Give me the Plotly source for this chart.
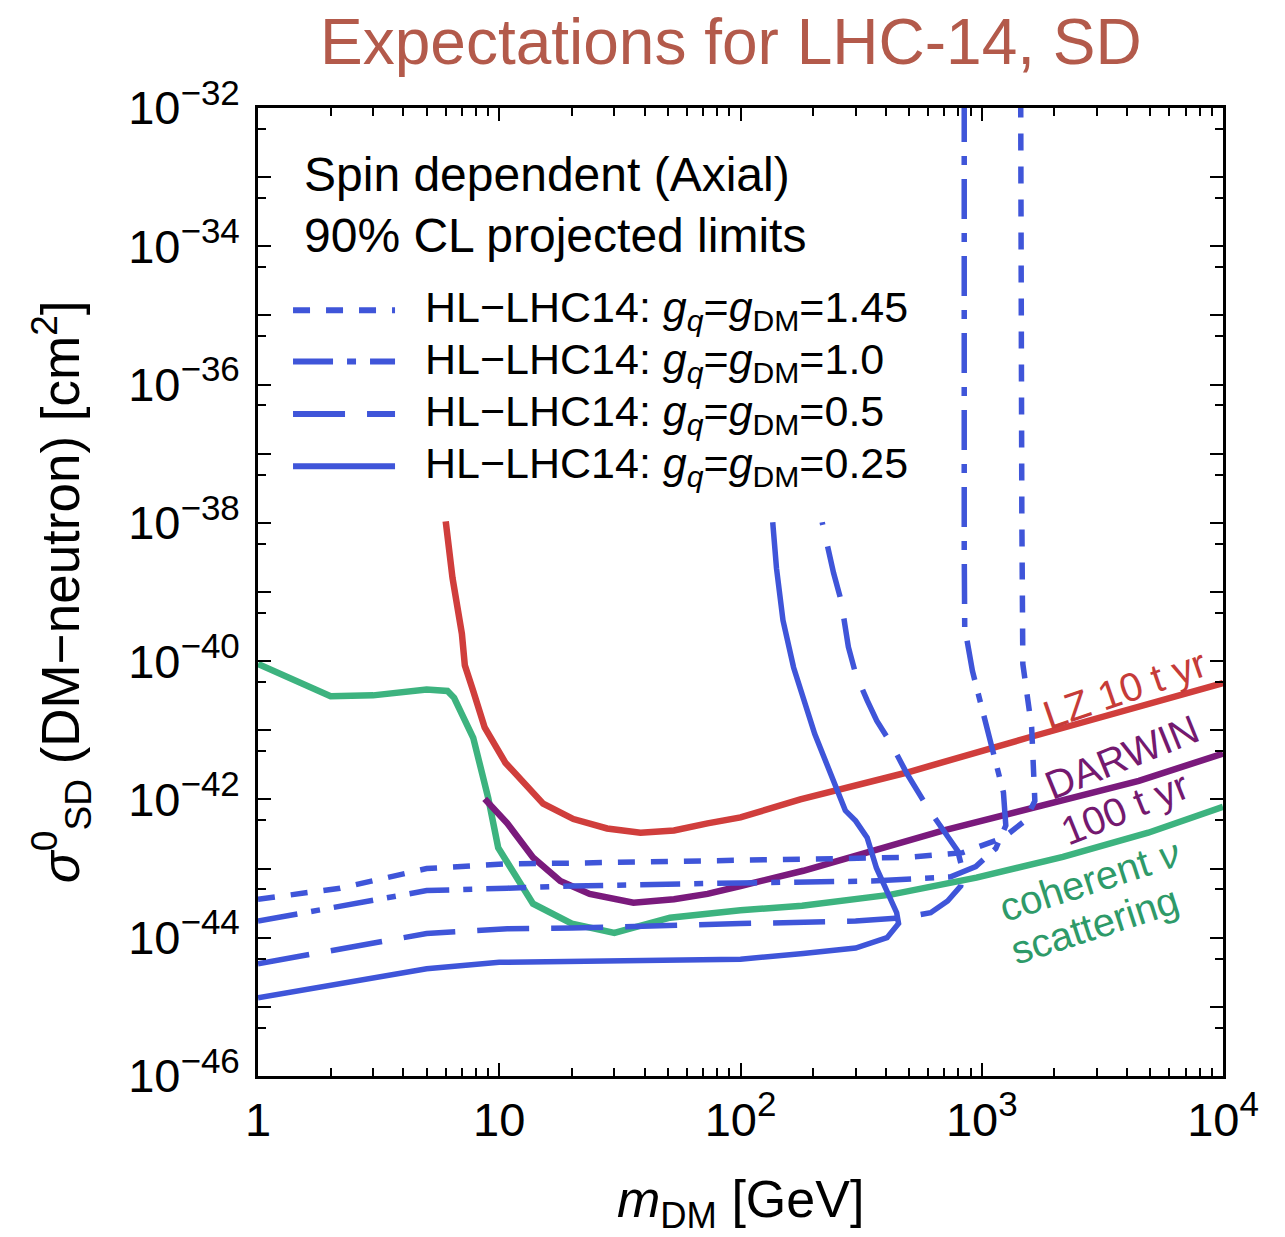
import plotly.graph_objects as go

# ---- data: DM mass [GeV] and SD DM-neutron cross sections [cm^2] ----
# coherent neutrino scattering floor
nu_m = [1, 2, 3, 5, 6.1, 6.5, 7.8, 9.0, 9.9, 13.8, 20, 30, 51, 100, 180, 420, 950, 2170, 4900, 10000]
nu_s = [9.1e-41, 3.1e-41, 3.2e-41, 3.9e-41, 3.7e-41, 2.95e-41, 7.8e-42, 1.05e-42, 2.0e-43, 3.1e-44,
        1.6e-44, 1.17e-44, 1.95e-44, 2.5e-44, 2.9e-44, 4.2e-44, 7.4e-44, 1.48e-43, 3.3e-43, 7.8e-43]

# LZ 10 t yr
lz_m = [6.0, 6.4, 7.0, 7.2, 7.8, 8.7, 10.6, 13.1, 15.2, 20.3, 28, 38.5, 53, 73, 100, 177, 490, 1550, 10000]
lz_s = [1.05e-38, 1.6e-39, 2.5e-40, 8.7e-41, 3.7e-41, 1.1e-41, 3.4e-42, 1.48e-42, 8.7e-43, 5.2e-43,
        3.8e-43, 3.3e-43, 3.55e-43, 4.5e-43, 5.5e-43, 1.0e-42, 2.45e-42, 7.8e-42, 4.8e-41]

# DARWIN 100 t yr
dw_m = [8.7, 10.8, 13.8, 17.9, 23.7, 36, 53, 73, 100, 182, 684, 1850, 4480, 10000]
dw_s = [1.02e-42, 4.5e-43, 1.45e-43, 6.6e-44, 4.3e-44, 3.2e-44, 3.6e-44, 4.3e-44, 5.6e-44, 9.3e-44,
        3.5e-43, 8.7e-43, 1.86e-42, 4.6e-42]

# HL-LHC14, g_q = g_DM = 1.45
l145_m = [1, 2.19, 5, 10.8, 20, 100, 490, 834, 1230, 1510, 1660, 1610, 1480, 1466, 1450]
l145_s = [3.6e-44, 5.2e-44, 1.0e-43, 1.17e-43, 1.2e-43, 1.29e-43, 1.45e-43, 1.7e-43, 2.8e-43, 4.9e-43,
          9.5e-43, 1.1e-41, 9.1e-41, 1.4e-38, 2.0e-32]

# HL-LHC14, g_q = g_DM = 1.0
l100_m = [1, 2.19, 5, 10.8, 20, 100, 350, 743, 944, 1143, 1258, 1230, 1050, 915, 850, 846, 846]
l100_s = [1.74e-44, 2.9e-44, 4.8e-44, 5.2e-44, 5.6e-44, 6.2e-44, 6.6e-44, 7.6e-44, 1.07e-43, 1.95e-43,
          4.2e-43, 1.26e-42, 1.0e-41, 7.2e-41, 3.1e-40, 4.0e-39, 2.0e-32]

# HL-LHC14, g_q = g_DM = 0.5
l050_m = [1, 5, 10.8, 20, 100, 300, 475, 614, 722, 818, 834, 795, 597, 532, 490, 420, 367, 335, 300,
          280, 261, 243, 218]
l050_s = [4.2e-45, 1.15e-44, 1.35e-44, 1.38e-44, 1.6e-44, 1.74e-44, 1.95e-44, 2.3e-44, 3.4e-44, 5.6e-44,
          9.3e-44, 1.8e-43, 7.6e-43, 1.48e-42, 2.35e-42, 6.5e-42, 1.38e-41, 2.7e-41, 6.6e-41,
          1.6e-40, 7.6e-40, 1.9e-39, 1.02e-38]

# HL-LHC14, g_q = g_DM = 0.25
l025_m = [1, 5, 10, 20, 100, 182, 300, 405, 452, 444, 405, 366, 335, 300, 272, 255, 203, 166, 150, 141, 136]
l025_s = [1.35e-45, 3.55e-45, 4.4e-45, 4.6e-45, 4.9e-45, 5.9e-45, 7.1e-45, 1.0e-44, 1.6e-44, 2.3e-44,
          4.8e-44, 1.02e-43, 2.8e-43, 4.9e-43, 6.9e-43, 1.2e-42, 8.9e-42, 8.1e-41, 3.9e-40, 2.2e-39, 1.02e-38]

lhc_labels = ["1.45", "1.0", "0.5", "0.25"]

# ---- styles ----
FONT = "Liberation Sans, Arial, Helvetica, sans-serif"
BLUE = "#3F55D9"
RED = "#D03E3C"
PURPLE = "#7A1A7C"
GREEN = "#3DB37F"
DASHES = ["17px,16px", "40px,14px,9px,14px", "52px,22px", "solid"]

fig = go.Figure()

fig.add_trace(go.Scatter(x=nu_m, y=nu_s, mode="lines", line=dict(color=GREEN, width=6.5), showlegend=False))
fig.add_trace(go.Scatter(x=lz_m, y=lz_s, mode="lines", line=dict(color=RED, width=6.5), showlegend=False))
fig.add_trace(go.Scatter(x=dw_m, y=dw_s, mode="lines", line=dict(color=PURPLE, width=6.5), showlegend=False))

for (mx, sy), dash in zip([(l145_m, l145_s), (l100_m, l100_s), (l050_m, l050_s), (l025_m, l025_s)], DASHES):
    fig.add_trace(go.Scatter(x=mx, y=sy, mode="lines",
                             line=dict(color=BLUE, width=5.5, dash=dash), showlegend=False))


def power(exp_text):
    # "10" with a fairly large exponent
    return "10<sup><span style='font-size:35px'>%s</span></sup>" % exp_text


# ---- axes ----
x_major = [1, 10, 100, 1000, 10000]
x_text = ["1", "10", power("2"), power("3"), power("4")]
x_minor = [k * 10 ** n for n in range(4) for k in range(2, 10)]

y_exp = list(range(-46, -31))
y_major = [10.0 ** e for e in y_exp]
y_text = [power("\u2212%d" % (-e)) if e % 2 == 0 else "" for e in y_exp]
y_minor = [5 * 10.0 ** e for e in range(-46, -32)]

axis_common = dict(
    type="log", showgrid=False, zeroline=False,
    showline=True, linecolor="black", linewidth=2.5, mirror="allticks",
    ticks="inside", ticklen=13, tickwidth=2, tickcolor="black",
    tickfont=dict(family=FONT, size=47, color="black"),
)

fig.update_xaxes(
    **axis_common, range=[0, 4], tickmode="array", tickvals=x_major, ticktext=x_text,
    ticklabelstandoff=1,
    minor=dict(tickmode="array", tickvals=x_minor, ticks="inside", ticklen=8, tickwidth=2, tickcolor="black"),
)
fig.update_yaxes(
    **axis_common, range=[-46, -32], tickmode="array", tickvals=y_major, ticktext=y_text,
    ticklabelstandoff=6,
    minor=dict(tickmode="array", tickvals=y_minor, ticks="inside", ticklen=8, tickwidth=2, tickcolor="black"),
)

annotations = []

# title
annotations.append(dict(text="Expectations for LHC-14, SD", xref="paper", yref="paper",
                        x=0.49, y=1.068, xanchor="center", yanchor="middle", showarrow=False,
                        font=dict(family=FONT, size=64, color="#B35A4B")))

# axis titles
annotations.append(dict(text="<i>m</i><sub>DM</sub> [GeV]", xref="paper", yref="paper",
                        x=0.50, y=-0.131, xanchor="center", yanchor="middle", showarrow=False,
                        font=dict(family=FONT, size=52, color="black")))
annotations.append(dict(text="<i>σ</i><sup>0</sup><sub>SD</sub> (DM\u2212neutron) [cm<sup>2</sup>]",
                        xref="paper", yref="paper", x=-0.205, y=0.50, textangle=-90,
                        xanchor="center", yanchor="middle", showarrow=False,
                        font=dict(family=FONT, size=53, color="black")))

# header text
annotations.append(dict(text="Spin dependent (Axial)", xref="paper", yref="paper", x=0.0456, y=0.931,
                        xanchor="left", yanchor="middle", showarrow=False,
                        font=dict(family=FONT, size=48, color="black")))
annotations.append(dict(text="90% CL projected limits", xref="paper", yref="paper", x=0.0456, y=0.868,
                        xanchor="left", yanchor="middle", showarrow=False,
                        font=dict(family=FONT, size=48, color="black")))

# legend
shapes = []
row_y = [0.791, 0.738, 0.684, 0.630]
for lab, dash, yy in zip(lhc_labels, DASHES, row_y):
    shapes.append(dict(type="line", xref="paper", yref="paper", x0=0.0363, x1=0.142, y0=yy, y1=yy,
                       line=dict(color=BLUE, width=6, dash=dash)))
    annotations.append(dict(
        text="HL\u2212LHC14: <i>g</i><sub><i>q</i></sub>=<i>g</i><sub>DM</sub>=" + lab,
        xref="paper", yref="paper", x=0.171, y=yy, xanchor="left", yanchor="middle", showarrow=False,
        font=dict(family=FONT, size=43, color="black")))

# curve labels
curve_labels = [
    ("LZ 10 t yr", 0.898, 0.400, -19, "#C63B38"),
    ("DARWIN", 0.895, 0.330, -22, "#74196F"),
    ("100 t yr", 0.898, 0.277, -22, "#74196F"),
    ("coherent <i>ν</i>", 0.862, 0.2025, -18, "#2E9A69"),
    ("scattering", 0.867, 0.156, -18, "#2E9A69"),
]
for txt, xx, yy, ang, col in curve_labels:
    annotations.append(dict(text=txt, xref="paper", yref="paper", x=xx, y=yy, textangle=ang,
                            xanchor="center", yanchor="middle", showarrow=False,
                            font=dict(family=FONT, size=40, color=col)))

fig.update_layout(
    width=1285, height=1237,
    margin=dict(l=258, r=62, t=108, b=161),
    paper_bgcolor="white", plot_bgcolor="white",
    showlegend=False,
    annotations=annotations,
    shapes=shapes,
    font=dict(family=FONT, color="black"),
)

fig.write_html("out.html")
